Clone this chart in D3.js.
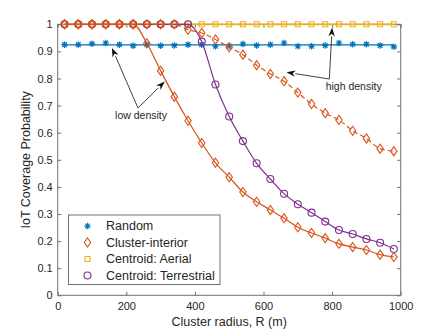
<!DOCTYPE html>
<html>
<head>
<meta charset="utf-8">
<script src="https://cdn.jsdelivr.net/npm/d3@7"></script>
<style>
body { margin: 0; background: #fff; }
text { font-family: "Liberation Sans", Arial, sans-serif; fill: #262626; }
</style>
</head>
<body>
<svg id="chart" width="443" height="332"></svg>
<script>
// cluster radius (m) of every simulated point
const radius = [20, 60, 100, 140, 180, 220, 260, 300, 340, 380, 420, 460, 500,
                540, 580, 620, 660, 700, 740, 780, 820, 860, 900, 940, 980];

const randomSim = [0.925, 0.925, 0.928, 0.931, 0.925, 0.921, 0.925, 0.921, 0.922, 0.925, 0.925, 0.919, 0.919,
                   0.927, 0.922, 0.925, 0.931, 0.919, 0.919, 0.922, 0.931, 0.926, 0.926, 0.922, 0.917];
const randomFit = 0.924;

// low density (solid) and high density (dashed)
const clusterLow = [1, 1, 1, 1, 1, 1, 0.93, 0.829, 0.733, 0.644, 0.562, 0.489, 0.436,
                    0.381, 0.345, 0.315, 0.284, 0.251, 0.23, 0.211, 0.19, 0.178, 0.167, 0.15, 0.141];
const clusterHigh = [1, 1, 1, 1, 1, 1, 1, 1, 1, 0.98, 0.968, 0.944, 0.915,
                     0.888, 0.849, 0.817, 0.79, 0.748, 0.706, 0.672, 0.647, 0.607, 0.579, 0.541, 0.532];
const aerial = [1, 1, 1, 1, 1, 1, 1, 1, 1, 1, 1, 1, 1,
                1, 1, 1, 1, 1, 1, 1, 1, 1, 1, 1, 1];
const terrestrial = [1, 1, 1, 1, 1, 1, 1, 1, 1, 1, 0.936, 0.778, 0.66,
                     0.569, 0.487, 0.429, 0.375, 0.336, 0.305, 0.272, 0.241, 0.226, 0.208, 0.194, 0.171];

const xTicks = [0, 200, 400, 600, 800, 1000];
const yTicks = [0, 0.1, 0.2, 0.3, 0.4, 0.5, 0.6, 0.7, 0.8, 0.9, 1];
const legendNames = ["Random", "Cluster-interior", "Centroid: Aerial", "Centroid: Terrestrial"];

const colors = { blue: "#0072BD", orange: "#D95319", yellow: "#EDB120", purple: "#7E2F8E" };

const svg = d3.select("#chart");
const mLeft = 57.7, mRight = 400.7, mTop = 24.3, mBottom = 295.3;
const x = d3.scaleLinear().domain([0, 1000]).range([mLeft, mRight]);
const y = d3.scaleLinear().domain([0, 1]).range([mBottom, mTop]);
const axisColor = "#707070";

// box + ticks (inward, matlab style)
svg.append("rect")
    .attr("x", mLeft).attr("y", mTop)
    .attr("width", mRight - mLeft).attr("height", mBottom - mTop)
    .attr("fill", "none").attr("stroke", axisColor).attr("stroke-width", 1);

const fmt = d => d3.format("~g")(d);
const gx = svg.append("g").attr("transform", `translate(0,${mBottom})`)
    .call(d3.axisBottom(x).tickValues(xTicks).tickSizeInner(-3.5).tickSizeOuter(0).tickPadding(7).tickFormat(fmt));
const gxTop = svg.append("g").attr("transform", `translate(0,${mTop})`)
    .call(d3.axisTop(x).tickValues(xTicks).tickSizeInner(-3.5).tickSizeOuter(0).tickFormat(""));
const gy = svg.append("g").attr("transform", `translate(${mLeft},0)`)
    .call(d3.axisLeft(y).tickValues(yTicks).tickSizeInner(-3.5).tickSizeOuter(0).tickPadding(5).tickFormat(fmt));
const gyRight = svg.append("g").attr("transform", `translate(${mRight},0)`)
    .call(d3.axisRight(y).tickValues(yTicks).tickSizeInner(-3.5).tickSizeOuter(0).tickFormat(""));

[gx, gxTop, gy, gyRight].forEach(g => {
    g.select(".domain").remove();
    g.selectAll(".tick line").attr("stroke", axisColor);
    g.selectAll(".tick text").attr("font-size", 11).attr("fill", "#262626")
        .style("font-family", '"Liberation Sans", Arial, sans-serif');
});

svg.append("text")
    .attr("x", (mLeft + mRight) / 2).attr("y", 326)
    .attr("text-anchor", "middle").attr("font-size", 12.5)
    .text("Cluster radius, R (m)");
svg.append("text")
    .attr("transform", `translate(30,${(mTop + mBottom) / 2}) rotate(-90)`)
    .attr("text-anchor", "middle").attr("font-size", 12.5)
    .text("IoT Coverage Probability");

// markers
function diamond(s) { return `M0,${-s * 0.65}L${s * 0.46},0L0,${s * 0.65}L${-s * 0.46},0Z`; }
function star(s) {
    const r = s / 2, d = r * 0.72;
    return `M${-r},0L${r},0M0,${-r}L0,${r}M${-d},${-d}L${d},${d}M${-d},${d}L${d},${-d}`;
}
function square(s) { const r = s / 2; return `M${-r},${-r}H${r}V${r}H${-r}Z`; }
function circle(s) { const r = s / 2; return `M${r},0A${r},${r} 0 1 1 ${-r},0A${r},${r} 0 1 1 ${r},0Z`; }

const line = d3.line().x(d => x(d[0])).y(d => y(d[1])).curve(d3.curveMonotoneX);
const plot = svg.append("g");

function drawSeries(values, color, shape, size, dash, lineWidth) {
    const pts = radius.map((r, i) => [r, values[i]]);
    plot.append("path")
        .attr("d", line(pts))
        .attr("fill", "none").attr("stroke", color)
        .attr("stroke-width", lineWidth || 1.2)
        .attr("stroke-dasharray", dash || null);
    plot.append("g").selectAll("path")
        .data(pts).enter().append("path")
        .attr("transform", d => `translate(${x(d[0])},${y(d[1])})`)
        .attr("d", shape(size))
        .attr("fill", "none").attr("stroke", color).attr("stroke-width", 1.1);
}

// random: flat analytic line + simulated stars
plot.append("path")
    .attr("d", line([[radius[0], randomFit], [radius[radius.length - 1], randomFit]]))
    .attr("fill", "none").attr("stroke", colors.blue).attr("stroke-width", 1.3);
plot.append("g").selectAll("path")
    .data(radius.map((r, i) => [r, randomSim[i]])).enter().append("path")
    .attr("transform", d => `translate(${x(d[0])},${y(d[1])})`)
    .attr("d", star(6.5))
    .attr("fill", "none").attr("stroke", colors.blue).attr("stroke-width", 1.2);

drawSeries(aerial, colors.yellow, square, 5, null, 1.8);
drawSeries(terrestrial, colors.purple, circle, 7);
drawSeries(clusterHigh, colors.orange, diamond, 7, "5,3");
drawSeries(clusterLow, colors.orange, diamond, 7);

// annotations
const arrows = [
    { from: [234, 0.691], to: [158, 0.913] },
    { from: [234, 0.691], to: [312, 0.789] },
    { from: [792, 0.798], to: [800, 0.988] },
    { from: [792, 0.798], to: [667, 0.823] }
];
const labels = [
    { pos: [243, 0.652], text: "low density" },
    { pos: [863, 0.757], text: "high density" }
];

const ann = svg.append("g");
arrows.forEach(a => {
    const x1 = x(a.from[0]), y1 = y(a.from[1]), x2 = x(a.to[0]), y2 = y(a.to[1]);
    const ang = Math.atan2(y2 - y1, x2 - x1);
    const hl = 9, hw = 3.2;
    const bx = x2 - hl * Math.cos(ang), by = y2 - hl * Math.sin(ang);
    ann.append("line")
        .attr("x1", x1).attr("y1", y1).attr("x2", bx).attr("y2", by)
        .attr("stroke", "#111").attr("stroke-width", 0.8);
    const px = -Math.sin(ang) * hw, py = Math.cos(ang) * hw;
    const ix = x2 - hl * 0.7 * Math.cos(ang), iy = y2 - hl * 0.7 * Math.sin(ang);
    ann.append("path")
        .attr("d", `M${x2},${y2}L${bx + px},${by + py}L${ix},${iy}L${bx - px},${by - py}Z`)
        .attr("fill", "#111");
});
labels.forEach(l => {
    ann.append("text")
        .attr("x", x(l.pos[0])).attr("y", y(l.pos[1]))
        .attr("text-anchor", "middle").attr("font-size", 10.5)
        .text(l.text);
});

// legend
const legend = svg.append("g").attr("transform", "translate(68.5,215)");
legend.append("rect")
    .attr("width", 151.5).attr("height", 69.5)
    .attr("fill", "#fff").attr("stroke", axisColor).attr("stroke-width", 1);
const legendItems = [
    { color: colors.blue, shape: star, size: 6.5 },
    { color: colors.orange, shape: diamond, size: 7 },
    { color: colors.yellow, shape: square, size: 5 },
    { color: colors.purple, shape: circle, size: 7 }
];
legendItems.forEach((item, i) => {
    const row = legend.append("g").attr("transform", `translate(0,${11 + i * 16.5})`);
    row.append("path")
        .attr("transform", "translate(19,0)")
        .attr("d", item.shape(item.size))
        .attr("fill", "none").attr("stroke", item.color).attr("stroke-width", 1.1);
    row.append("text")
        .attr("x", 37.5).attr("y", 4.3)
        .attr("font-size", 12.5)
        .text(legendNames[i]);
});
</script>
</body>
</html>
